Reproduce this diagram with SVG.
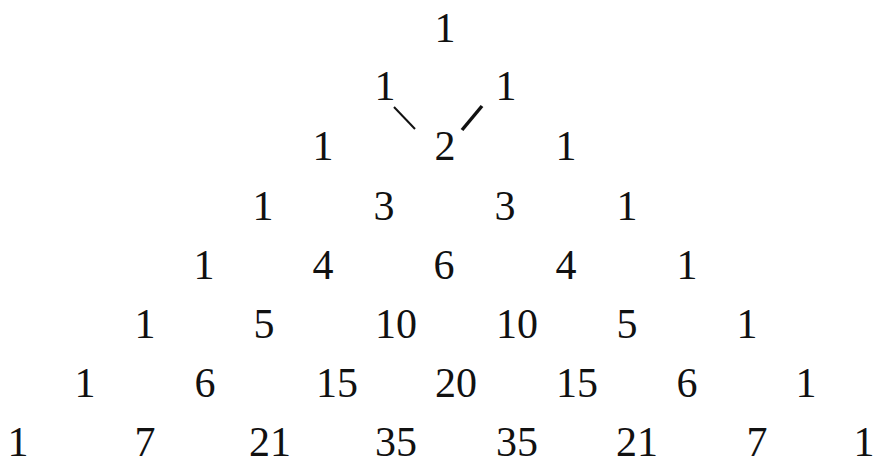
<svg xmlns="http://www.w3.org/2000/svg" width="877" height="466" viewBox="0 0 877 466">
<style>
text{font-family:"Liberation Serif","Times New Roman",serif;font-size:42px;fill:#111;text-anchor:middle}
.c{stroke:#111;stroke-linecap:butt}
</style>
<rect width="877" height="466" fill="#fff"/>
<g id="row0"><text x="445" y="42">1</text></g>
<g id="row1"><text x="385" y="100">1</text><text x="506" y="100">1</text></g>
<g id="row2"><text x="323" y="160">1</text><text x="445" y="160">2</text><text x="566" y="160">1</text></g>
<g id="row3"><text x="263" y="220">1</text><text x="384" y="220">3</text><text x="505" y="220">3</text><text x="627" y="220">1</text></g>
<g id="row4"><text x="204" y="279">1</text><text x="323" y="279">4</text><text x="444" y="279">6</text><text x="566" y="279">4</text><text x="687" y="279">1</text></g>
<g id="row5"><text x="145" y="338">1</text><text x="264" y="338">5</text><text x="396" y="338">10</text><text x="517" y="338">10</text><text x="627" y="338">5</text><text x="747" y="338">1</text></g>
<g id="row6"><text x="85" y="397">1</text><text x="205" y="397">6</text><text x="337" y="397">15</text><text x="456" y="397">20</text><text x="577" y="397">15</text><text x="687" y="397">6</text><text x="806" y="397">1</text></g>
<g id="row7"><text x="18" y="456">1</text><text x="145" y="456">7</text><text x="270" y="456">21</text><text x="396" y="456">35</text><text x="517" y="456">35</text><text x="637" y="456">21</text><text x="757" y="456">7</text><text x="864" y="456">1</text></g>
<g id="connectors">
<line class="c" x1="394" y1="107" x2="415" y2="129" stroke-width="2"/>
<line class="c" x1="482" y1="106" x2="462" y2="130" stroke-width="3.5"/>
</g>
</svg>
